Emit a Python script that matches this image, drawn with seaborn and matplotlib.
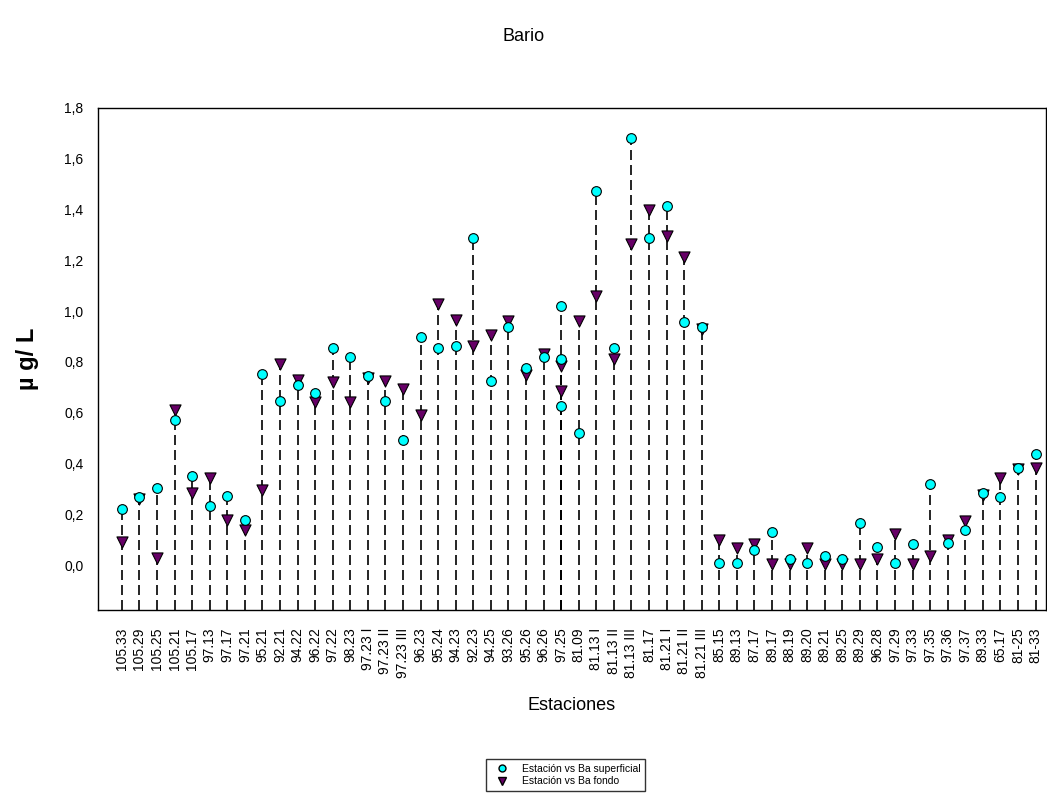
import numpy as np
import pandas as pd
import matplotlib
matplotlib.use("Agg")
import matplotlib.pyplot as plt
from matplotlib.lines import Line2D
import seaborn as sns

# Stations in plot order
estaciones = [
    "105.33", "105.29", "105.25", "105.21", "105.17", "97.13", "97.17", "97.21",
    "95.21", "92.21", "94.22", "96.22", "97.22", "98.23", "97.23 I", "97.23 II",
    "97.23 III", "96.23", "95.24", "94.23", "92.23", "94.25", "93.26", "95.26",
    "96.26", "97.25", "81.09", "81.13 I", "81.13 II", "81.13 III", "81.17",
    "81.21 I", "81.21 II", "81.21 III", "85.15", "89.13", "87.17", "89.17",
    "88.19", "89.20", "89.21", "89.25", "89.29", "96.28", "97.29", "97.33",
    "97.35", "97.36", "97.37", "89.33", "65.17", "81-25", "81-33",
]

# Ba superficial (ug/L)
ba_superficial = [
    0.22, 0.27, 0.305, 0.57, 0.35, 0.234, 0.272, 0.178,
    0.752, 0.648, 0.71, 0.677, 0.855, 0.819, 0.745, 0.648,
    0.493, 0.90, 0.853, 0.861, 1.286, 0.726, 0.938, 0.776,
    0.818, 1.019, 0.52, 1.473, 0.855, 1.683, 1.286,
    1.413, 0.956, 0.938, 0.01, 0.01, 0.059, 0.129,
    0.026, 0.01, 0.035, 0.025, 0.168, 0.071, 0.01, 0.082,
    0.32, 0.086, 0.138, 0.283, 0.27, 0.384, 0.438,
]

# Ba fondo (ug/L)
ba_fondo = [
    0.09, 0.26, 0.028, 0.61, 0.285, 0.345, 0.178, 0.138,
    0.296, 0.793, 0.727, 0.644, 0.72, 0.644, 0.735, 0.725,
    0.693, 0.59, 1.028, 0.966, 0.864, 0.907, 0.962, 0.75,
    0.831, 0.785, 0.96, 1.058, 0.811, 1.265, 1.40,
    1.295, 1.214, 0.93, 0.099, 0.066, 0.082, 0.003,
    0.003, 0.066, 0.005, 0.003, 0.003, 0.025, 0.121, 0.003,
    0.038, 0.10, 0.174, 0.275, 0.342, 0.38, 0.381,
]

# extra samples at station 97.25
extra_estacion = ["97.25", "97.25"]
extra_superficial = [0.813, 0.625]
extra_fondo = [0.684, np.nan]

df = pd.DataFrame({
    "estacion": estaciones + extra_estacion,
    "superficial": ba_superficial + extra_superficial,
    "fondo": ba_fondo + extra_fondo,
})

sns.set_style("white")
plt.rcParams["font.family"] = ["Liberation Sans", "DejaVu Sans"]
plt.rcParams["text.color"] = "black"
plt.rcParams["axes.labelcolor"] = "black"

fig = plt.figure(figsize=(10.47, 8.05), dpi=100)
ax = fig.add_axes([0.0936, 0.242, 0.905, 0.624])

ymin = -0.177
pos = {e: i for i, e in enumerate(estaciones)}
xs = df["estacion"].map(pos)
tops = df[["superficial", "fondo"]].max(axis=1)
ax.vlines(xs, ymin, tops, colors="black", linestyles=(0, (6, 3)), linewidth=1.2, zorder=1)

purple = "#660066"
cyan = "#00FFFF"
sns.stripplot(data=df, x="estacion", y="fondo", order=estaciones, jitter=False,
              marker="v", color=purple, edgecolor="black", linewidth=0.8, size=8,
              ax=ax, zorder=3)
sns.stripplot(data=df, x="estacion", y="superficial", order=estaciones, jitter=False,
              marker="o", color=cyan, edgecolor="black", linewidth=0.8, size=7,
              ax=ax, zorder=4)

ax.set_xlim(-1.36, len(estaciones) - 0.43)
ax.set_ylim(ymin, 1.8)
yt = np.arange(0, 1.81, 0.2)
ax.set_yticks(yt)
ax.set_yticklabels([f"{v:.1f}".replace(".", ",") for v in yt], fontsize=10)
ax.set_xticks(range(len(estaciones)))
ax.set_xticklabels(estaciones, rotation=90, fontsize=10)
ax.tick_params(axis="both", direction="out", length=7, width=1, colors="black")
ax.tick_params(axis="x", length=9)
for s in ax.spines.values():
    s.set_color("black")
    s.set_linewidth(1)

ax.set_xlabel("Estaciones", fontsize=13, labelpad=14)
ax.set_ylabel("\u00b5 g/ L", fontsize=17, fontweight="bold", labelpad=18)
fig.suptitle("Bario", fontsize=13, y=0.965)

handles = [
    Line2D([], [], marker="o", color=cyan, markeredgecolor="black", linestyle="none", markersize=5),
    Line2D([], [], marker="v", color=purple, markeredgecolor="black", linestyle="none", markersize=6),
]
fig.legend(handles, ["Estación vs Ba superficial", "Estación vs Ba fondo"],
           loc="upper center", bbox_to_anchor=(0.54, 0.057), fontsize=7.5, frameon=True,
           fancybox=False, edgecolor="black", handletextpad=0.8, borderpad=0.45,
           labelspacing=0.25, handlelength=2.2, borderaxespad=0)

fig.savefig("out.png", dpi=100)
